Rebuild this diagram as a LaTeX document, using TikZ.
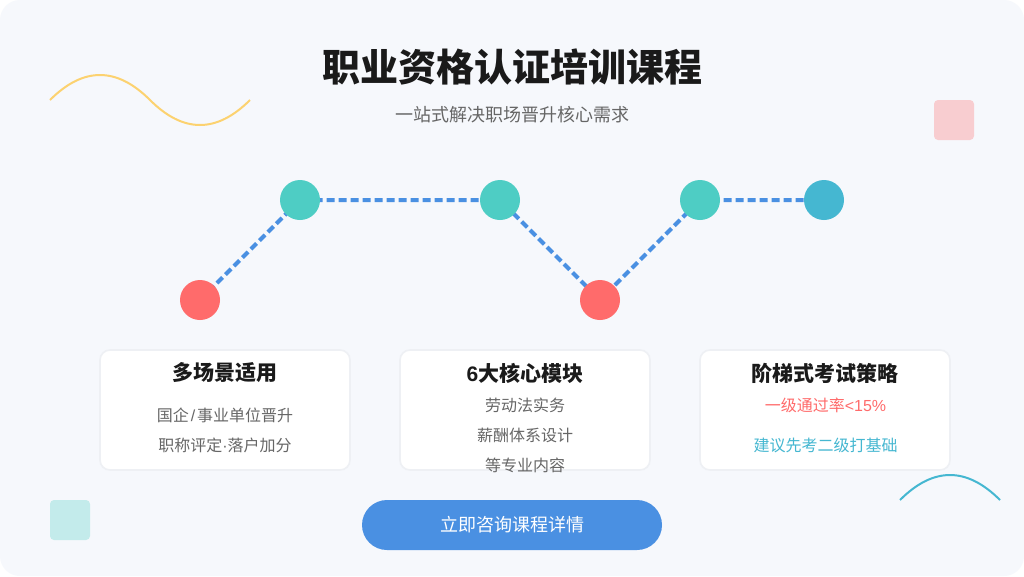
\documentclass[tikz,border=0pt]{standalone}
\usepackage{fontspec}
\setmainfont{Noto Sans CJK SC}
\newfontfamily\lat{Liberation Sans}
\definecolor{pagebg}{HTML}{F6F8FC}
\definecolor{ink}{HTML}{1A1A1A}
\definecolor{soft}{HTML}{666666}
\definecolor{flow}{HTML}{4A90E2}
\definecolor{redc}{HTML}{FF6B6B}
\definecolor{tealc}{HTML}{4ECDC4}
\definecolor{bluec}{HTML}{45B7D1}
\definecolor{yellowc}{HTML}{FCD270}
\definecolor{cardline}{HTML}{EEF0F4}
\pgfdeclarelayer{pagelayer}
\pgfdeclarelayer{edgelayer}
\pgfsetlayers{pagelayer,edgelayer,main}
\tikzset{
  x=0.75pt,y=-0.75pt,
  dot/.style={circle,minimum size=30pt,inner sep=0pt,fill=#1},
  flowline/.style={draw=flow,line width=3pt,dash pattern=on 6pt off 3pt,line join=miter},
  card/.style={draw=cardline,line width=1.2pt,fill=white,rounded corners=7.5pt,minimum width=187.5pt,minimum height=90pt,inner sep=0pt},
  patch/.style={rounded corners=3pt,minimum size=30pt,inner sep=0pt,fill=#1,fill opacity=.3},
  lab/.style={inner sep=0pt,anchor=center,text=#1},
  titlefont/.style={font=\fontsize{28.5}{32}\selectfont\bfseries},
  subfont/.style={font=\fontsize{13.5}{16}\selectfont},
  headfont/.style={font=\fontsize{15.75}{18}\selectfont\bfseries},
  bodyfont/.style={font=\fontsize{12}{14}\selectfont},
}
\begin{document}
\begin{tikzpicture}
\useasboundingbox (0,0) rectangle (1024,576);
\begin{pgfonlayer}{pagelayer}
\fill[white] (0,0) rectangle (1024,576);
\fill[pagebg,rounded corners=15pt] (0,0) rectangle (1024,576);
\end{pgfonlayer}
\draw[yellowc,line width=1.5pt] (50,100) .. controls (83.33,66.67) and (116.67,66.67) .. (150,100) .. controls (183.33,133.33) and (216.67,133.33) .. (250,100);
\draw[bluec,line width=1.5pt] (900,500) .. controls (933.33,466.67) and (966.67,466.67) .. (1000,500);
\node[patch=redc] (pinksq) at (954,120) {};
\node[patch=tealc] (tealsq) at (70,520) {};
\node[lab=ink,titlefont] (title) at (512,67) {职业资格认证培训课程};
\node[lab=soft,subfont] (subtitle) at (512,115) {一站式解决职场晋升核心需求};
\node[dot=redc] (n1) at (200,300) {};
\node[dot=tealc] (n2) at (300,200) {};
\node[dot=tealc] (n3) at (500,200) {};
\node[dot=redc] (n4) at (600,300) {};
\node[dot=tealc] (n5) at (700,200) {};
\node[dot=bluec] (n6) at (824,200) {};
\begin{pgfonlayer}{edgelayer}
\draw[flowline] (n1.center) -- (n2.center) -- (n3.center) -- (n4.center) -- (n5.center) -- (n6.center);
\end{pgfonlayer}
\node[card] (c1) at (225,410) {};
\node[card] (c2) at (525,410) {};
\node[card] (c3) at (825,410) {};
\node[lab=ink,headfont] (c1h) at (225,373) {多场景适用};
\node[lab=soft,bodyfont] (c1a) at (225,415.5) {国企\kern1.5pt{\lat /}\kern1.5pt 事业单位晋升};
\node[lab=soft,bodyfont] (c1b) at (225,445.5) {职称评定{\lat ·}落户加分};
\node[lab=ink,headfont] (c2h) at (525,373) {{\lat\bfseries 6}大核心模块};
\node[lab=soft,bodyfont] (c2a) at (525,405.5) {劳动法实务};
\node[lab=soft,bodyfont] (c2b) at (525,435.5) {薪酬体系设计};
\node[lab=soft,bodyfont] (c2c) at (525,465.5) {等专业内容};
\node[lab=ink,headfont] (c3h) at (825,373) {阶梯式考试策略};
\node[lab=redc,bodyfont] (c3a) at (825.5,405.5) {一级通过率{\lat <15\%}};
\node[lab=bluec,bodyfont] (c3b) at (825.5,445.5) {建议先考二级打基础};
\node[fill=flow,rounded corners=18.75pt,minimum width=225pt,minimum height=37.5pt,inner sep=0pt] (btn) at (512,525) {};
\node[lab=white,subfont] (btnt) at (512,525) {立即咨询课程详情};
\end{tikzpicture}
\end{document}
